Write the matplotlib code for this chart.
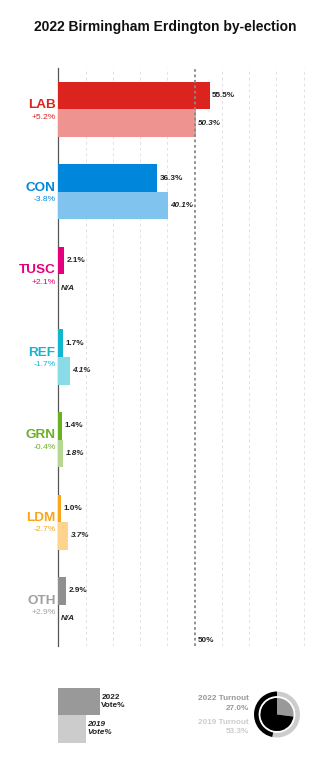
import matplotlib
matplotlib.use('Agg')
import matplotlib.pyplot as plt

plt.rcParams['font.family'] = ['Liberation Sans', 'DejaVu Sans']

# Data
parties = ['LAB', 'CON', 'TUSC', 'REF', 'GRN', 'LDM', 'OTH']
vote_2022 = [55.5, 36.3, 2.1, 1.7, 1.4, 1.0, 2.9]
vote_2019 = [50.3, 40.1, None, 4.1, 1.8, 3.7, None]
change = [5.2, -3.8, 2.1, -1.7, -0.4, -2.7, 2.9]
colors_2022 = ['#dc241f', '#0087dc', '#e4007c', '#12b6cf', '#6ab023', '#faa61a', '#909090']
colors_2019 = ['#ee938f', '#80c3ee', '#f080be', '#88dbe7', '#b5d791', '#fdd38d', '#c8c8c8']
label_colors = ['#dc241f', '#0087dc', '#e4007c', '#12b6cf', '#6ab023', '#faa61a', '#a0a0a0']
turnout_2022 = 27.0
turnout_2019 = 53.3
majority_line = 50

W, H = 330, 770
fig = plt.figure(figsize=(W / 100, H / 100), dpi=100)

px_per_pct = 2.726
x0 = 58.4
xmax = 99
ax = fig.add_axes([x0 / W, 1 - 646 / H, xmax * px_per_pct / W, 578 / H])
ax.set_xlim(0, xmax)
ax.set_ylim(len(parties) - 0.5, -0.5)

bh = 1 / 3
for i, p in enumerate(parties):
    ax.barh(i - bh / 2, vote_2022[i], height=bh, color=colors_2022[i], zorder=3)
    ax.annotate(f'{vote_2022[i]:.1f}%', (vote_2022[i], i - bh / 2), xytext=(1.5, 0),
                textcoords='offset points', va='center', ha='left', fontsize=5.9,
                fontweight='bold', color='#222222', zorder=5)
    if vote_2019[i] is not None:
        ax.barh(i + bh / 2, vote_2019[i], height=bh, color=colors_2019[i], zorder=3)
        txt, xv = f'{vote_2019[i]:.1f}%', vote_2019[i]
    else:
        txt, xv = 'N/A', 0
    ax.annotate(txt, (xv, i + bh / 2), xytext=(1.5, 0), textcoords='offset points',
                va='center', ha='left', fontsize=5.9, fontweight='bold',
                fontstyle='italic', color='#222222', zorder=5)
    # party name and change
    ax.annotate(p, (0, i - 0.05), xytext=(-2, 0), textcoords='offset points',
                va='center', ha='right', fontsize=9.7, fontweight='bold',
                color=label_colors[i], annotation_clip=False)
    ax.annotate(f'{change[i]:+.1f}%', (0, i + 0.095), xytext=(-2, 0),
                textcoords='offset points', va='center', ha='right', fontsize=6.1,
                color=label_colors[i], annotation_clip=False)

ax.set_xticks([10, 20, 30, 40, 60, 70, 80, 90])
ax.xaxis.grid(True, color='#e2e2e2', linestyle=(0, (3, 3)), linewidth=0.7, zorder=0)
ax.tick_params(axis='both', length=0, labelbottom=False, labelleft=False)
ax.set_yticks([])
ax.axvline(majority_line, color='#888888', linestyle=(0, (1.5, 1.5)), linewidth=1.3, zorder=4)
ax.annotate(f'{majority_line}%', (majority_line, len(parties) - 0.5), xytext=(2.5, 4.3),
            textcoords='offset points', va='center', ha='left', fontsize=5.9,
            fontweight='bold', color='#222222')
for s in ['top', 'right', 'bottom']:
    ax.spines[s].set_visible(False)
ax.spines['left'].set_color('#555555')
ax.spines['left'].set_linewidth(0.9)

fig.text(0.5, 1 - 27.5 / H, '2022 Birmingham Erdington by-election', ha='center',
         va='center', fontsize=10, fontweight='bold', color='#111111')

# legend swatches
lax = fig.add_axes([x0 / W, 1 - 750 / H, xmax * px_per_pct / W, 70 / H])
lax.set_xlim(0, xmax)
lax.set_ylim(70 / 82.5 / 2, -70 / 82.5 / 2)
lax.axis('off')
lax.barh(-bh / 2, 15.2, height=bh, color='#999999')
lax.barh(bh / 2, 10.1, height=bh, color='#cccccc')
lax.annotate('2022\nVote%', (15.2, -bh / 2), xytext=(1, 0), textcoords='offset points',
             va='center', ha='left', fontsize=5.9, fontweight='bold', color='#222222',
             linespacing=1.25)
lax.annotate('2019\nVote%', (10.1, bh / 2), xytext=(1, 0), textcoords='offset points',
             va='center', ha='left', fontsize=5.9, fontweight='bold', fontstyle='italic',
             color='#222222', linespacing=1.25)

# turnout text
fig.text(249 / W, 1 - 698.3 / H, '2022 Turnout', ha='right', va='center', fontsize=5.9,
         fontweight='bold', color='#999999')
fig.text(249 / W, 1 - 708.3 / H, f'{turnout_2022:.1f}%', ha='right', va='center',
         fontsize=5.9, fontweight='bold', color='#999999')
fig.text(249 / W, 1 - 722.3 / H, '2019 Turnout', ha='right', va='center', fontsize=5.9,
         fontweight='bold', color='#cccccc')
fig.text(249 / W, 1 - 731.7 / H, f'{turnout_2019:.1f}%', ha='right', va='center',
         fontsize=5.9, fontweight='bold', color='#cccccc')

# turnout donut
cx, cy, r = 277, 714.5, 23
pax = fig.add_axes([(cx - 25) / W, 1 - (cy + 25) / H, 50 / W, 50 / H])
pax.pie([turnout_2019, 100 - turnout_2019], colors=['#cccccc', '#000000'], startangle=90,
        counterclock=False, radius=1, wedgeprops=dict(width=0.2, linewidth=0))
pax.pie([turnout_2022, 100 - turnout_2022], colors=['#999999', '#000000'], startangle=90,
        counterclock=False, radius=0.72, wedgeprops=dict(linewidth=0))
pax.set_xlim(-25 / r, 25 / r)
pax.set_ylim(-25 / r, 25 / r)
pax.set_aspect('equal')

fig.savefig('out.png', dpi=100, facecolor='white')
